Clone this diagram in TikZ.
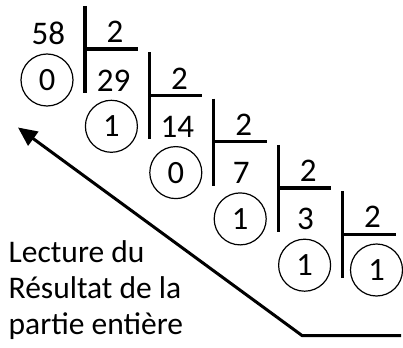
\documentclass[tikz,border=0pt]{standalone}
\usepackage{fontspec}
\setmainfont{Carlito}
\usetikzlibrary{arrows.meta}
\begin{document}
\begin{tikzpicture}[x=1pt,y=-1pt,
  num/.style={inner sep=0pt, font=\fontsize{33}{38}\selectfont},
  rest/.style={circle, draw, line width=1.2pt, minimum size=52pt, inner sep=0pt, font=\fontsize{32.5}{38}\selectfont},
  bar/.style={line width=3.2pt},
  lbl/.style={anchor=base west, inner sep=0pt, font=\fontsize{31.5}{38}\selectfont},
  readarrow/.style={line width=3pt, -{Triangle[length=19pt,width=17pt]}}]
\useasboundingbox (0,0) rectangle (403,347);
% dividends / quotients
\node[num] (n0) at (48.3,33) {58};
\node[num] (n1) at (113.5,81) {29};
\node[num] (n2) at (177.3,127.3) {14};
\node[num] (n3) at (241.2,172.6) {7};
\node[num] (n4) at (305.6,218.9) {3};
% divisors and bars
\foreach \i in {0,...,4}{
  \node[num] (d\i) at ({115+64.4*\i},{32+46.3*\i}) {2};
  \coordinate (vt\i) at ({85+64.4*\i},{6+46.3*\i});
  \coordinate (vb\i) at ({85+64.4*\i},{93+46.3*\i});
  \coordinate (hl\i) at ({85+64.4*\i},{49+46.3*\i});
  \coordinate (hr\i) at ({138+64.4*\i},{49+46.3*\i});
  \draw[bar] (vt\i) -- (vb\i);
  \draw[bar] (hl\i) -- (hr\i);
}
% remainders
\node[rest] (r0) at (47,80) {0};
\node[rest] (r1) at (111.4,126.3) {1};
\node[rest] (r2) at (175.8,172.6) {0};
\node[rest] (r3) at (240.2,218.9) {1};
\node[rest] (r4) at (304.6,265.2) {1};
\node[rest] (q4) at (376.5,270) {1};
% reading arrow
\coordinate (a0) at (401,335.5);
\coordinate (a1) at (302,335.5);
\coordinate (a2) at (18,127.5);
\draw[readarrow] (a0) -- (a1) -- (a2);
% label
\node[lbl] (t1) at (8.5,262) {Lecture du};
\node[lbl] (t2) at (8.5,298) {Résultat de la};
\node[lbl] (t3) at (8.5,334) {partie entière};
\end{tikzpicture}
\end{document}
